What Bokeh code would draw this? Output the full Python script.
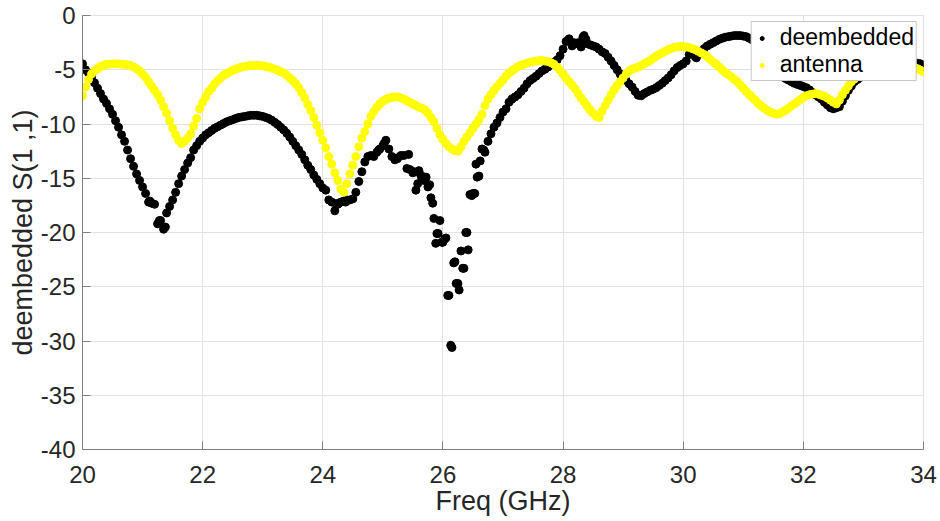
import numpy as np
from bokeh.plotting import figure
from bokeh.models import (Range1d, FixedTicker, Legend, LegendItem, ColumnDataSource,
                          CustomJSTickFormatter)
from bokeh.embed import file_html
from bokeh.resources import INLINE

# Sweep: 20 GHz to 34 GHz, 0.05 GHz step
f_start = 20.0
f_step = 0.05

# antenna S11 (dB), one row per GHz
antenna_db = [
    -7.4, -6.6, -5.9, -5.4, -5.1, -4.9, -4.7, -4.6, -4.5, -4.5, -4.45, -4.45, -4.45, -4.5, -4.5, -4.55, -4.6, -4.75, -4.9, -5.1,
    -5.4, -5.7, -6.1, -6.5, -6.9, -7.3, -7.8, -8.4, -9.0, -9.7, -10.4, -11.0, -11.5, -11.8, -11.6, -11.3, -10.9, -10.2, -9.5, -8.6,
    -8.0, -7.5, -7.0, -6.7, -6.3, -6.0, -5.75, -5.5, -5.35, -5.2, -5.05, -4.95, -4.85, -4.75, -4.7, -4.65, -4.6, -4.6, -4.6, -4.6,
    -4.65, -4.7, -4.75, -4.85, -4.95, -5.05, -5.2, -5.3, -5.5, -5.75, -6.0, -6.3, -6.65, -7.1, -7.6, -8.2, -8.75, -9.4, -10.1, -10.8,
    -11.5, -12.2, -13.0, -13.7, -14.5, -15.2, -16.0, -16.3, -15.5, -14.6, -13.8, -13.0, -12.1, -11.3, -10.7, -10.0, -9.3, -8.85, -8.45, -8.15,
    -7.9, -7.75, -7.6, -7.55, -7.5, -7.5, -7.6, -7.7, -7.85, -8.0, -8.15, -8.3, -8.45, -8.55, -8.7, -9.0, -9.4, -9.8, -10.4, -11.0,
    -11.4, -11.8, -12.1, -12.3, -12.45, -12.5, -12.1, -11.6, -11.2, -10.8, -10.4, -10.0, -9.6, -9.1, -8.3, -7.7, -7.3, -6.9, -6.55, -6.25,
    -5.95, -5.6, -5.3, -5.1, -4.9, -4.7, -4.6, -4.5, -4.4, -4.3, -4.25, -4.2, -4.15, -4.15, -4.2, -4.25, -4.35, -4.5, -4.75, -5.05,
    -5.4, -5.75, -6.1, -6.4, -6.75, -7.2, -7.6, -7.95, -8.35, -8.7, -9.0, -9.3, -9.4, -8.8, -8.3, -7.8, -7.3, -6.85, -6.45, -6.1,
    -5.75, -5.4, -5.1, -4.95, -4.85, -4.75, -4.6, -4.45, -4.3, -4.15, -3.95, -3.75, -3.6, -3.45, -3.3, -3.15, -3.05, -2.95, -2.9, -2.85,
    -2.85, -2.9, -2.95, -3.05, -3.15, -3.3, -3.45, -3.6, -3.8, -4.05, -4.3, -4.5, -4.75, -5.0, -5.25, -5.45, -5.65, -5.9, -6.1, -6.4,
    -6.7, -7.0, -7.3, -7.55, -7.8, -8.1, -8.35, -8.55, -8.75, -8.9, -9.0, -9.1, -9.05, -8.9, -8.75, -8.55, -8.35, -8.15, -7.95, -7.75,
    -7.55, -7.4, -7.3, -7.25, -7.2, -7.25, -7.35, -7.45, -7.6, -7.8, -8.0, -8.15, -7.8, -7.3, -6.9, -6.5, -6.1, -5.85, -5.65, -5.5,
    -5.4, -5.3, -5.2, -5.1, -5.0, -4.95, -4.9, -4.8, -4.75, -4.7, -4.65, -4.6, -4.6, -4.6, -4.6, -4.65, -4.7, -4.8, -4.9, -5.05,
    -5.2,
]

# deembedded S11 (dB), one row per GHz
deemb_db = [
    -4.45, -5.0, -5.3, -5.7, -6.2, -6.7, -7.2, -7.7, -8.1, -8.6, -9.1, -9.7, -10.3, -11.0, -11.6, -12.4, -13.2, -13.9, -14.6, -15.2,
    -15.8, -16.4, -17.2, -17.3, -17.4, -19.2, -18.9, -19.7, -18.2, -17.6, -17.0, -16.3, -15.5, -14.8, -14.2, -13.6, -13.1, -12.4, -12.0, -11.6,
    -11.3, -11.0, -10.8, -10.6, -10.4, -10.25, -10.1, -9.95, -9.8, -9.7, -9.6, -9.5, -9.4, -9.35, -9.3, -9.25, -9.2, -9.2, -9.2, -9.25,
    -9.3, -9.4, -9.5, -9.65, -9.85, -10.05, -10.3, -10.55, -10.85, -11.2, -11.6, -12.0, -12.4, -12.8, -13.3, -13.8, -14.2, -14.7, -15.1, -15.5,
    -15.9, -16.1, -17.0, -17.2, -18.0, -17.4, -17.2, -17.1, -17.0, -17.0, -16.9, -16.3, -15.3, -14.4, -13.5, -13.0, -12.9, -13.0, -12.6, -12.3,
    -12.0, -11.5, -12.3, -13.0, -13.3, -13.1, -12.9, -12.9, -14.1, -14.2, -14.5, -16.1, -14.3, -15.0, -14.9, -15.8, -16.8, -18.7, -20.1, -18.9,
    -20.9, -20.5, -25.8, -30.6, -22.7, -24.7, -21.7, -23.3, -20.0, -16.5, -16.4, -13.7, -14.8, -12.3, -12.6, -11.6, -10.9, -10.3, -9.9, -9.4,
    -8.9, -8.6, -8.0, -7.7, -7.5, -7.3, -7.0, -6.7, -6.3, -6.0, -5.8, -5.6, -5.35, -5.1, -4.95, -4.75, -4.5, -4.3, -4.1, -3.7,
    -3.1, -2.4, -2.15, -2.8, -2.6, -2.5, -2.9, -1.85, -2.6, -2.7, -2.8, -2.9, -3.1, -3.35, -3.5, -3.85, -4.2, -4.6, -5.0, -5.4,
    -5.7, -6.0, -6.3, -6.6, -7.0, -7.35, -7.4, -7.2, -7.05, -6.9, -6.8, -6.65, -6.45, -6.25, -6.0, -5.75, -5.45, -5.1, -4.8, -4.6,
    -4.45, -4.2, -3.6, -3.5, -3.8, -3.6, -3.3, -3.05, -2.8, -2.65, -2.5, -2.35, -2.2, -2.1, -2.0, -1.95, -1.9, -1.85, -1.85, -1.85,
    -1.9, -1.95, -2.1, -2.25, -2.4, -2.65, -2.9, -3.2, -3.55, -3.9, -4.3, -4.75, -5.2, -5.5, -5.8, -5.95, -6.1, -6.25, -6.35, -6.45,
    -6.55, -6.65, -6.85, -7.1, -7.3, -7.5, -7.7, -8.0, -8.25, -8.5, -8.6, -8.5, -8.4, -7.9, -7.4, -6.9, -6.5, -6.1, -5.9, -5.7,
    -5.5, -5.35, -5.2, -5.1, -5.0, -4.95, -4.85, -4.8, -4.7, -4.65, -4.6, -4.55, -4.5, -4.5, -4.45, -4.4, -4.4, -4.4, -4.4, -4.45,
    -4.75,
]

# additional scattered deembedded readings (noisy regions)
deemb_extra_freq = [21.12, 21.28, 21.38, 24.22, 24.27, 24.38, 24.93, 25.02, 25.24, 25.43,
                    25.52, 25.58, 25.63, 25.68, 25.72, 25.78, 25.83, 25.88, 25.92, 25.98,
                    26.03, 26.08, 26.13, 26.18, 26.22, 26.27, 26.33, 26.38, 26.42, 26.48,
                    26.53, 26.57, 26.62, 26.68, 28.08, 28.18, 28.28, 28.33, 28.38, 30.13, 30.22]
deemb_extra_db = [-17.1, -18.9, -19.5, -17.35, -17.3, -17.2, -12.4, -11.8, -13.2, -12.8,
                  -14.4, -15.5, -14.7, -15.2, -14.9, -15.6, -17.3, -21.0, -20.1, -20.9,
                  -20.6, -25.8, -30.4, -22.8, -24.7, -25.3, -23.3, -20.0, -21.6, -16.6,
                  -16.4, -14.9, -13.4, -12.4, -2.3, -2.5, -2.7, -2.0, -2.2, -3.5, -3.9]

x_ticks = [20, 22, 24, 26, 28, 30, 32, 34]
y_ticks = [-40, -35, -30, -25, -20, -15, -10, -5, 0]

x_label = "Freq (GHz)"
y_label = "deembedded S(1 ,1)"
legend_labels = ["deembedded", "antenna"]

antenna_freq = list(f_start + f_step * np.arange(len(antenna_db)))
deemb_freq = list(f_start + f_step * np.arange(len(deemb_db)))
n_extra = min(len(deemb_extra_freq), len(deemb_extra_db))
all_deemb_f = deemb_freq + deemb_extra_freq[:n_extra]
all_deemb_db = deemb_db + deemb_extra_db[:n_extra]

FONT = "Liberation Sans"

p = figure(width=940, height=521, x_range=Range1d(20, 34), y_range=Range1d(-40, 0),
           output_backend="svg", toolbar_location=None,
           min_border_left=82, min_border_right=17, min_border_top=15, min_border_bottom=72)
p.background_fill_color = "white"
p.border_fill_color = "white"
p.outline_line_color = "#e2e2e2"

src_d = ColumnDataSource(dict(x=all_deemb_f, y=all_deemb_db))
src_a = ColumnDataSource(dict(x=antenna_freq, y=antenna_db))
r_d = p.scatter("x", "y", source=src_d, size=8, marker="circle", fill_color="black", line_color="black")
r_a = p.scatter("x", "y", source=src_a, size=8, marker="circle", fill_color="#ffff00", line_color="#ffff00")

p.xaxis.ticker = FixedTicker(ticks=x_ticks)
p.yaxis.ticker = FixedTicker(ticks=y_ticks)
p.xgrid.ticker = FixedTicker(ticks=x_ticks)
p.ygrid.ticker = FixedTicker(ticks=y_ticks)
p.grid.grid_line_color = "#e2e2e2"
p.grid.grid_line_width = 1

fmt_code = "return String(tick);"
for ax in (p.xaxis[0], p.yaxis[0]):
    ax.formatter = CustomJSTickFormatter(code=fmt_code)
    ax.major_label_text_font = FONT
    ax.major_label_text_font_size = "24px"
    ax.major_label_text_color = "#262626"
    ax.axis_label_text_font = FONT
    ax.axis_label_text_font_size = "27px"
    ax.axis_label_text_font_style = "normal"
    ax.axis_label_text_color = "#262626"
    ax.axis_line_color = "#7f7f7f"
    ax.major_tick_line_color = "#7f7f7f"
    ax.major_tick_in = 8
    ax.major_tick_out = 0
    ax.minor_tick_line_color = None

p.xaxis.axis_label = x_label
p.yaxis.axis_label = y_label
p.xaxis.major_label_standoff = 16
p.yaxis.major_label_standoff = 7
p.xaxis.axis_label_standoff = 0
p.yaxis.axis_label_standoff = 0

legend = Legend(items=[LegendItem(label=legend_labels[0], renderers=[r_d]),
                       LegendItem(label=legend_labels[1], renderers=[r_a])],
                location="top_right")
legend.label_text_font = FONT
legend.label_text_font_size = "23px"
legend.label_text_color = "black"
legend.glyph_width = 16
legend.glyph_height = 10
legend.label_height = 20
legend.label_standoff = 10
legend.padding = 2
legend.spacing = 0
legend.margin = 6
legend.border_line_color = "#8c8c8c"
legend.border_line_width = 1
legend.background_fill_color = "white"
legend.background_fill_alpha = 1.0
p.add_layout(legend)

open("out.html", "w").write(file_html(p, INLINE))
